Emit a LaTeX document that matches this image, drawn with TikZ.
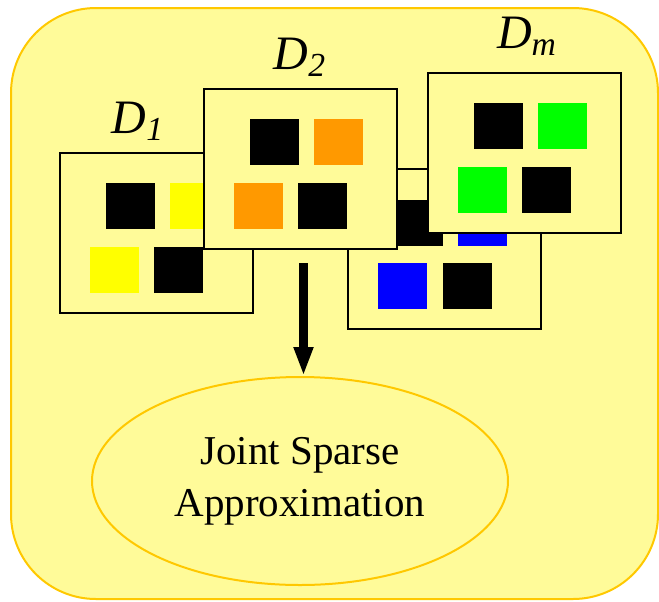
\documentclass[tikz,border=0pt]{standalone}
\usepackage{fontspec}
\setmainfont{Liberation Serif}
\usetikzlibrary{positioning, arrows.meta, shapes.geometric}
\definecolor{paleyellow}{RGB}{255,251,153}
\definecolor{goldline}{RGB}{255,200,0}
\definecolor{sqyellow}{RGB}{255,255,0}
\definecolor{sqorange}{RGB}{255,153,0}
\definecolor{sqgreen}{RGB}{0,255,0}
\definecolor{sqblue}{RGB}{0,0,255}

\begin{document}
\begin{tikzpicture}[x=0.5pt, y=-0.5pt,
  dict/.style={draw=black, line width=0.9pt, fill=paleyellow, minimum width=96.5pt,
    minimum height=80pt, inner sep=0pt, anchor=north west},
  dlabel/.style={anchor=base, font=\fontsize{24}{28}\selectfont\itshape}]
\useasboundingbox (0,0) rectangle (659,601);
\draw[goldline, fill=paleyellow, line width=1pt, rounded corners=42.5pt] (11,8) rectangle (658,599);

% D_1
\node[dict] at (59,152) (d1) {};
\begin{scope}[shift={(d1.north west)}]
\foreach \x/\y/\c in {47/31/black, 111/31/sqyellow, 31/95/sqyellow, 95/95/black}
  \fill[\c] (\x,\y) rectangle ++(49,46);
\end{scope}
% the one in the back
\node[dict] at (347,168) (d3) {};
\begin{scope}[shift={(d3.north west)}]
\foreach \x/\y/\c in {47/32/black, 111/32/sqblue, 31/95/sqblue, 96/95/black}
  \fill[\c] (\x,\y) rectangle ++(49,46);
\end{scope}
% D_2
\node[dict] at (203,88) (d2) {};
\begin{scope}[shift={(d2.north west)}]
\foreach \x/\y/\c in {47/31/black, 111/31/sqorange, 31/95/sqorange, 95/95/black}
  \fill[\c] (\x,\y) rectangle ++(49,46);
\end{scope}
% D_m
\node[dict] at (427,72) (dm) {};
\begin{scope}[shift={(dm.north west)}]
\foreach \x/\y/\c in {47/31/black, 111/31/sqgreen, 31/95/sqgreen, 95/95/black}
  \fill[\c] (\x,\y) rectangle ++(49,46);
\end{scope}

\node[dlabel] at (138,133) (l1) {D\textsubscript{1}};
\node[dlabel] at (300,69) (l2) {D\textsubscript{2}};
\node[dlabel] at (527,48) (lm) {D\textsubscript{m}};

\node[ellipse, draw=goldline, line width=1pt, fill=paleyellow, minimum width=208pt,
  minimum height=104pt, align=center, font=\fontsize{20.5}{26}\selectfont] at (300,481) (jsa)
  {Joint Sparse\\Approximation};

\coordinate (top) at (303.5,263);
\draw[line width=4.5pt, -{Triangle[length=14.5pt, width=9pt]}] (top) -- (top |- jsa.north);
\end{tikzpicture}
\end{document}
